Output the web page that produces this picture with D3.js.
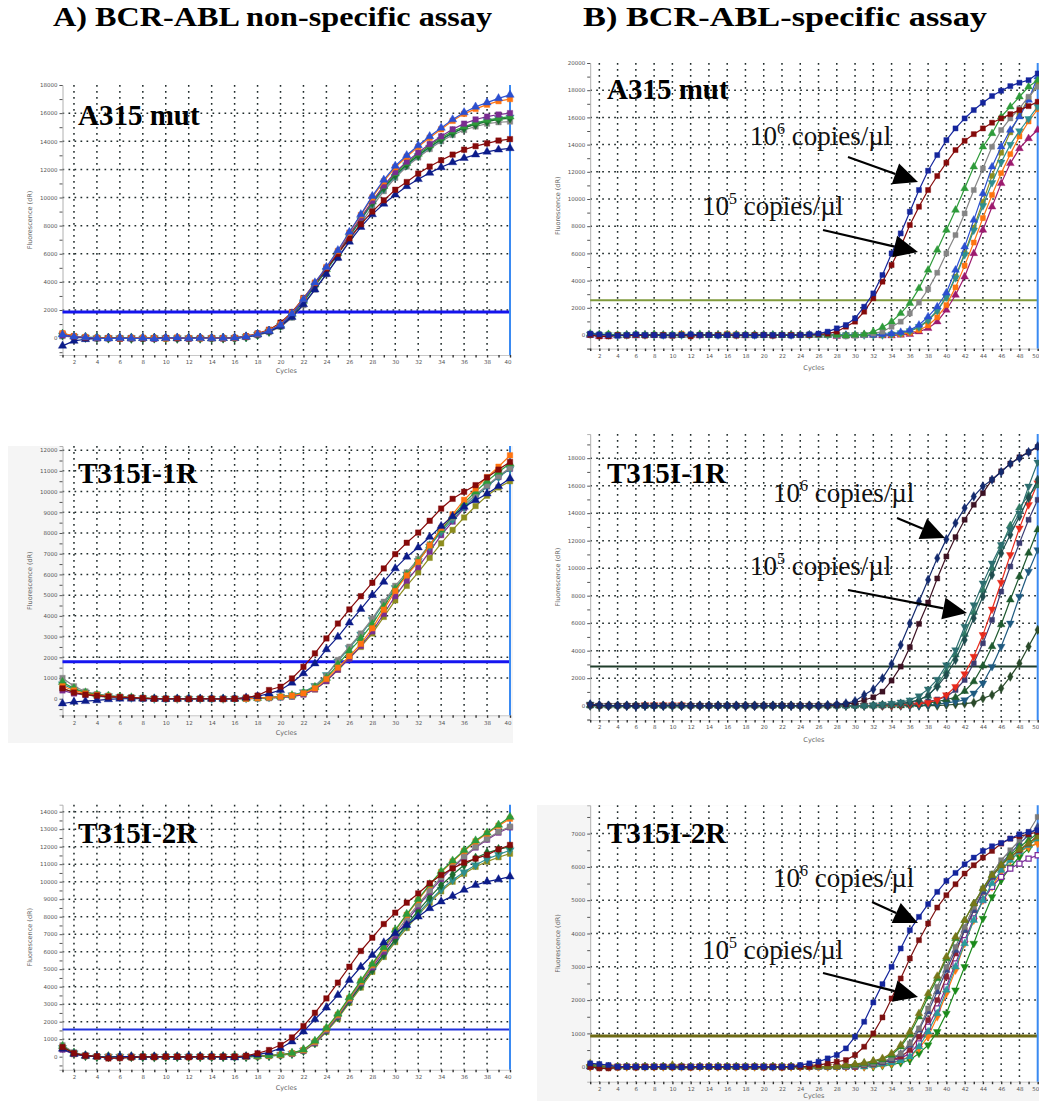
<!DOCTYPE html>
<html><head><meta charset="utf-8">
<script src="https://cdn.jsdelivr.net/npm/d3@7"></script>
<style>body{margin:0;background:#fff}svg{display:block}</style>
</head><body>
<svg id="c" width="1039" height="1101"></svg>
<script>
// ---------------- DATA ----------------
const columnTitles = ["A) BCR-ABL non-specific assay", "B) BCR-ABL-specific assay"];
const panelLabels = ["A315 mut", "T315I-1R", "T315I-2R", "A315 mut", "T315I-1R", "T315I-2R"];
const annotationExp = ["6", "5"];
const annotationUnit = " copies/µl";
const xAxisTitle = "Cycles";
const yAxisTitle = "Fluorescence (dR)";
const cyclesA = 40, cyclesB = 50;

const yTicksA1 = [0,2000,4000,6000,8000,10000,12000,14000,16000,18000];
const yTicksA2 = [0,1000,2000,3000,4000,5000,6000,7000,8000,9000,10000,11000,12000];
const yTicksA3 = [0,1000,2000,3000,4000,5000,6000,7000,8000,9000,10000,11000,12000,13000,14000];
const yTicksB1 = [0,2000,4000,6000,8000,10000,12000,14000,16000,18000,20000];
const yTicksB2 = [0,2000,4000,6000,8000,10000,12000,14000,16000,18000];
const yTicksB3 = [0,1000,2000,3000,4000,5000,6000,7000];
const thresholds = [1850, 1780, 1560, 2550, 2850, 920];

// Panel A1 : A315 mut, non-specific (cycles 1..40)
const A1_blue   = [250,100,50,0,-30,0,-20,0,-40,0,30,-20,0,-10,0,20,
  100,280,520,950,1750,2750,3950,5050,6250,7550,8800,10100,11250,12250,13000,13700,14350,14950,15550,16050,16450,16750,17050,17300];
const A1_orange = [350,150,80,20,0,-20,0,30,0,-30,50,0,-20,0,0,10,
  120,300,560,1000,1800,2800,3950,5050,6200,7500,8750,10000,11150,12150,12900,13600,14250,14850,15450,15950,16300,16600,16850,17000];
const A1_purple = [200,80,30,0,0,-40,0,0,-50,0,0,-30,0,0,-20,0,
  90,260,500,920,1700,2700,3850,4950,6100,7350,8550,9750,10850,11800,12550,13200,13800,14350,14850,15250,15550,15750,15900,16000];
const A1_green  = [300,120,40,50,20,0,30,0,0,-20,0,0,0,-30,0,10,
  100,270,510,930,1700,2650,3800,4900,6050,7300,8500,9700,10800,11700,12450,13100,13700,14250,14700,15050,15300,15500,15650,15750];
const A1_dkgreen= [250,100,60,30,0,0,-20,0,0,0,-20,0,0,0,0,0,
  90,250,480,900,1650,2600,3750,4850,6000,7250,8450,9650,10700,11600,12350,13000,13600,14150,14600,14950,15200,15400,15550,15650];
const A1_gray   = [150,50,0,0,-20,0,0,-30,0,0,0,-20,0,0,-20,0,
  60,200,420,800,1450,2350,3450,4550,5700,6950,8150,9350,10450,11400,12200,12850,13450,14000,14450,14800,15050,15250,15350,15400];
const A1_teal   = [200,100,50,0,0,0,0,-20,0,0,0,0,-20,0,0,0,
  80,240,470,880,1600,2550,3700,4800,5950,7200,8400,9550,10600,11500,12300,12950,13550,14100,14550,14950,15250,15450,15600,15700];
const A1_maroon = [300,120,40,0,0,-30,0,-20,0,0,0,-20,0,0,0,30,
  130,330,600,1100,1850,2850,3900,4950,6000,7100,8100,9000,9800,10550,11100,11700,12200,12650,13050,13400,13650,13850,14050,14150];
const A1_navy   = [-550,-200,-80,-30,0,0,-30,0,0,0,-20,0,0,-20,0,0,
  90,260,480,850,1500,2400,3450,4550,5700,6850,7900,8800,9550,10200,10800,11300,11750,12150,12500,12800,13050,13250,13400,13500];

// Panel A2 : T315I-1R, non-specific
const A2_maroon = [500,300,200,150,100,80,50,30,0,0,0,-20,0,0,-20,0,60,150,
  420,580,980,1540,2190,2910,3630,4310,4950,5600,6290,6980,7530,8020,8590,9180,9650,9990,10310,10680,11060,11430];
const A2_navy   = [-230,-150,-120,-80,-30,0,0,0,0,-20,0,0,0,0,0,0,50,120,
  250,420,770,1220,1700,2380,2990,3670,4330,5000,5640,6290,6850,7300,7810,8330,8810,9260,9580,9900,10260,10630];
const A2_orange = [600,400,250,180,120,80,50,30,0,0,-20,0,0,0,-20,0,0,30,60,100,
  150,260,500,950,1500,2050,2650,3400,4300,5200,5950,6600,7400,8250,8900,9600,10150,10700,11200,11750];
const A2_green  = [800,500,300,200,140,90,60,30,10,0,0,20,0,0,0,0,10,30,60,100,
  160,300,560,1000,1650,2300,2900,3600,4450,5300,6000,6650,7400,8150,8800,9450,10000,10500,10950,11350];
const A2_gray   = [1000,600,350,220,150,100,70,40,20,0,0,0,0,0,0,0,0,20,50,90,
  150,300,600,1100,1870,2510,3150,3870,4680,5450,6100,6750,7450,8150,8750,9350,9850,10300,10750,11150];
const A2_teal   = [700,450,300,200,130,80,50,30,0,0,0,0,0,0,0,0,20,40,70,110,
  170,320,620,1150,1800,2450,3100,3800,4600,5350,6000,6650,7350,8050,8650,9250,9750,10250,10700,11100];
const A2_purple = [400,250,180,120,80,50,30,0,0,-20,0,0,0,-20,0,0,0,20,30,60,
  100,200,450,850,1400,1950,2550,3250,4100,4950,5700,6350,7100,7900,8550,9200,9750,10250,10700,11100];
const A2_olive  = [500,300,200,130,90,60,40,20,0,0,0,0,0,0,0,0,0,20,40,70,
  110,220,450,850,1400,1950,2500,3150,3950,4750,5450,6100,6800,7500,8150,8750,9300,9800,10200,10500];

// Panel A3 : T315I-2R, non-specific
const A3_maroon = [550,200,60,20,-100,-80,-50,0,-30,0,0,-30,0,0,0,0,50,
  190,380,670,1100,1750,2510,3330,4230,5140,6040,6800,7580,8230,8800,9330,9910,10380,10760,11090,11320,11530,11850,12100];
const A3_navy   = [450,150,50,0,-20,0,0,-30,0,0,-20,0,0,0,-20,-50,0,
  120,250,480,860,1430,2130,2800,3520,4380,5140,5810,6520,7050,7520,8000,8480,8860,9180,9530,9810,10000,10130,10290];
const A3_green  = [600,200,50,0,0,0,-20,0,0,0,-20,0,0,0,0,0,0,
  30,60,110,200,400,900,1650,2450,3400,4350,5300,6250,7250,8150,9000,9850,10600,11200,11800,12350,12800,13250,13700];
const A3_orange = [500,150,40,0,0,-20,0,0,0,0,0,-20,0,0,0,0,0,
  30,60,100,190,380,860,1600,2400,3350,4300,5250,6200,7200,8100,8950,9800,10550,11150,11750,12300,12750,13200,13600];
const A3_gray   = [650,250,80,20,0,0,0,0,-20,0,0,0,0,0,0,0,0,
  25,55,95,180,360,820,1550,2350,3300,4250,5200,6150,7050,7900,8700,9500,10250,10850,11450,12000,12450,12850,13150];
const A3_purple = [400,150,40,0,0,-20,0,0,0,0,0,0,0,-20,0,0,0,
  25,50,90,170,340,780,1500,2300,3250,4200,5100,6000,6900,7750,8600,9400,10150,10800,11400,11950,12400,12800,13100];
const A3_teal   = [500,200,60,0,0,0,0,-20,0,0,0,0,0,0,0,0,0,
  25,50,90,170,340,780,1480,2250,3150,4050,4950,5800,6650,7450,8200,8900,9550,10100,10550,10950,11300,11550,11800];
const A3_olive  = [450,180,50,0,0,0,-20,0,0,0,0,0,0,0,0,0,0,
  20,45,85,160,320,750,1420,2180,3080,3950,4850,5700,6550,7350,8100,8800,9450,10000,10450,10850,11150,11400,11600];
const A3_dkgreen= [550,200,60,0,0,0,0,0,-20,0,0,0,0,0,0,0,0,
  25,55,95,180,350,800,1500,2280,3180,4080,4980,5850,6700,7550,8350,9100,9800,10400,10950,11350,11650,11850,12000];

// Panel B1 : A315 mut, specific (cycles 1..50)
const B1_navy   = [100,50,0,-50,0,50,0,0,-50,0,0,50,0,0,-50,0,0,0,-50,0,0,0,-50,0,50,100,
  245,490,735,1225,2080,3060,4410,6000,7470,9065,10660,12080,13230,14330,15190,15925,16540,17080,17570,17960,18300,18550,18740,19230];
const B1_maroon = [0,-100,-100,0,-50,0,-50,0,0,-50,0,-100,0,0,0,0,-50,0,0,0,-50,0,0,0,0,50,100,
  245,610,980,1715,2700,3920,5145,6490,8085,9430,10660,11690,12670,13600,14280,14770,15190,15610,15925,16240,16540,16830,17150];
const B1_green  = [100,50,50,0,0,50,0,50,0,0,0,0,50,0,0,0,0,0,0,0,0,0,0,0,0,0,0,0,-50,0,50,
  245,565,980,1590,2330,3430,4780,6250,7720,9190,10780,12370,13840,14820,16050,16780,17520,18250,18740];
const B1_gray   = [50,0,0,0,-50,0,0,0,0,-50,0,0,0,0,0,50,0,0,0,0,0,0,0,0,0,0,0,0,-100,-50,0,100,
  245,610,980,1590,2380,3360,4580,6000,7350,8940,10660,12250,13840,15070,15925,16660,17520,18250];
const B1_blue   = [0,0,0,-50,0,0,0,0,0,0, 0,0,0,0,0,0,0,0,0,0, 0,0,0,0,0,0,0,0,0,0, 0,0,50,100,200,
  370,735,1350,2080,3110,4780,6490,8450,10410,12370,13840,15070,16050,17280,18990];
const B1_teal   = [50,0,0,0,0,0,0,0,0,0, 0,-50,0,0,0,0,0,0,0,0, 0,0,0,0,0,0,0,0,0,0, 0,0,0,50,150,
  300,600,1100,1800,2800,4200,5900,7700,9500,11200,12700,14000,15000,15900,16800];
const B1_olive  = [0,0,50,0,0,0,0,0,0,0, 0,0,0,0,0,0,0,0,0,0, 0,0,0,0,0,0,0,0,0,0, 0,0,0,50,120,
  280,560,1050,1750,2800,4300,6000,7900,9800,11700,13400,14900,16200,17400,18500];
const B1_orange = [50,0,0,0,0,0,0,0,0,0, 100,0,0,0,0,100,50,0,0,0, 0,0,0,0,0,0,0,0,0,0, 0,0,0,0,50,150,
  350,700,1300,2200,3500,5100,6800,8600,10300,11900,13300,14600,15700,16600];
const B1_purple = [0,-100,-100,-50,0,-50,0,0,-50,-50, 0,0,-50,0,0,0,0,-50,0,0, -50,0,0,0,0,0,0,-100,-50,-50, 0,0,-50,-50,0,50,
  245,490,980,1840,2940,4290,6000,7720,9430,11150,12620,13720,14450,15070];

// Panel B2 : T315I-1R, specific
const B2_navy   = [100,50,0,0,0,-50,0,0,0,50, 0,0,0,0,0,0,0,0,0,0, 0,0,0,0,0,0,50,100,
  170,340,780,1190,1990,3030,4420,5990,7570,9150,10730,12110,13280,14370,15220,15950,16430,16990,17600,18010,18440,18860];
const B2_maroon = [50,0,0,0,0,0,0,0,0,0, 0,0,0,0,0,0,0,0,0,0, 0,0,0,0,0,0,0,50,100,
  220,410,610,1020,1820,2840,4250,5950,7500,9250,10850,12260,13520,14610,15460,16430,17040,17600,18060,18440,18810];
const B2_teal1  = [100,0,0,0,0,0,0,0,0,0, 0,0,0,0,0,0,0,0,0,0, 0,0,0,0,0,0,0,0,0,0, 0,50,100,150,250,
  400,700,1200,1900,2960,4050,5750,7330,8910,10360,11700,12790,14000,15950,17700];
const B2_teal2  = [50,0,0,0,0,0,0,0,0,0, 0,0,0,0,0,0,0,0,0,0, 0,0,0,0,0,0,0,0,0,0, 0,0,50,80,150,250,
  400,780,1380,2230,3320,4780,6360,7940,9510,11090,12430,13760,15100,16430];
const B2_tealgrn= [0,0,0,0,0,0,0,0,0,0, 0,0,0,0,0,0,0,0,0,0, 0,0,0,0,0,0,0,0,0,0, 0,0,50,100,150,250,
  450,700,1500,2500,3700,5200,6800,8400,10000,11600,13100,14400,15300,16000];
const B2_red    = [50,0,0,0,0,0,50,50,50,50, 50,0,0,0,0,0,0,0,0,0, 0,0,0,0,0,0,0,0,0,0, 0,0,0,0,50,100,150,
  220,410,780,1380,2310,3570,5150,7010,8960,10970,12910,14610,16190];
const B2_slate  = [0,0,0,0,0,0,0,0,0,0, 0,0,0,0,0,0,0,0,0,0, 0,0,0,0,0,0,0,0,0,0, 0,0,0,50,100,150,200,300,450,
  650,1140,1870,3080,4540,6240,8300,10120,11820,13520,14970];
const B2_dkgreen= [50,0,0,0,0,0,0,0,0,0, 0,0,0,0,0,0,0,0,0,0, 0,0,0,0,0,0,0,0,0,0, 0,0,0,0,0,50,100,200,300,450,
  600,1050,1750,2900,4300,5900,7700,9400,11100,12800];
const B2_bluetl = [0,0,0,0,0,0,0,0,0,0, 0,0,0,0,0,0,0,0,0,0, 0,0,0,0,0,0,0,0,0,0, 0,0,0,0,0,0,0,50,100,200,300,
  410,900,1630,2840,4300,5990,7940,9760,11330];
const B2_latest = [0,0,0,0,0,0,0,0,0,0, 0,0,0,0,0,0,0,0,0,0, 0,0,0,0,0,0,0,0,0,0, 0,0,0,0,0,0,0,0,0,50,100,150,
  220,530,780,1260,2110,3080,4300,5510];

// Panel B3 : T315I-2R, specific
const B3_navy   = [100,80,50,0,0,0,-20,0,0,0, -20,0,0,0,0,0,0,0,0,0, -20,0,0,50,100,150,250,
  350,550,900,1350,1930,2480,3000,3550,4100,4500,4880,5250,5580,5820,6080,6280,6480,6620,6720,6850,6980,7050,7100];
const B3_maroon = [0,-50,-50,-30,0,-30,0,-20,0,-20, 0,-30,0,0,-20,0,0,-20,0,-30, 0,-30,0,0,0,50,100,150,
  200,350,600,1000,1480,2050,2650,3250,3800,4300,4780,5150,5480,5800,6050,6280,6480,6700,6850,6920,6980,7050];
const B3_olive  = [100,50,0,0,0,0,0,0,0,50, 0,0,0,0,0,0,0,0,0,0, 0,0,0,0,0,0,0,0,50,80,120,180,
  250,400,650,1050,1600,2200,2720,3300,3900,4400,4900,5350,5750,6050,6300,6520,6700,6900];
const B3_green  = [50,0,0,0,0,0,0,0,0,0, 0,0,0,0,0,0,0,0,0,0, 0,0,0,0,0,0,0,0,30,60,100,150,
  220,350,600,980,1500,2100,2650,3250,3850,4400,4900,5350,5750,6050,6350,6600,6800,7000];
const B3_gray   = [50,0,0,0,0,0,0,0,0,0, 0,0,0,0,0,0,0,0,0,0, 0,0,0,0,0,0,0,0,0,30,60,100,160,
  250,400,700,1150,1750,2400,3000,3600,4200,4800,5350,5800,6200,6500,6800,7050,7500];
const B3_bluegry= [0,0,0,0,0,0,0,0,0,0, 0,0,0,0,0,0,0,0,0,0, 0,0,0,0,0,0,0,0,0,40,70,100,130,
  220,380,650,1100,1650,2250,2900,3500,4100,4700,5250,5700,6100,6400,6700,6950,7200];
const B3_darkred= [0,0,0,0,0,0,0,0,0,0, 0,0,0,0,0,0,0,0,0,0, 0,0,0,0,0,0,0,0,0,0, 40,80,130,200,
  300,500,900,1400,2000,2700,3400,4100,4700,5250,5700,6050,6300,6500,6700,6950];
const B3_teal   = [0,0,0,0,0,0,0,0,0,0, 0,0,0,0,0,0,0,0,0,0, 0,0,0,0,0,0,0,0,0,0, 0,40,80,120,180,
  300,600,1050,1600,2300,3000,3700,4400,5000,5500,5900,6200,6450,6650,6850];
const B3_purple = [0,0,0,0,0,0,0,0,0,0, 0,0,0,0,0,0,0,0,0,0, 0,0,0,0,0,0,0,0,0,0, 40,80,130,180,250,
  400,700,1200,1750,2400,3100,3800,4450,5000,5400,5700,5950,6100,6250,6350];
const B3_orange = [0,0,0,0,0,0,0,0,0,0, 0,0,0,0,0,0,0,0,0,0, 0,0,0,0,0,0,0,0,0,0, 0,30,60,100,200,
  300,550,900,1500,2200,2900,3700,4400,5000,5400,5850,6200,6450,6600,6700];
const B3_grnlate= [0,0,0,0,0,0,0,0,0,0, 0,0,0,0,0,0,0,0,0,0, 0,0,0,0,0,0,0,0,0,0, 0,0,30,60,120,200,
  400,650,1050,1600,2300,3000,3700,4450,5100,5600,6000,6300,6550,6750];

// ---------------- STYLES ----------------
const sty = {
  blue:{c:"#2b4fd0",s:"tri"}, orange:{c:"#ff7410",s:"sq"}, purple:{c:"#7a2d91",s:"sq"},
  green:{c:"#2e9b3a",s:"tri"}, dkgreen:{c:"#1b6b2c",s:"dia"}, gray:{c:"#858585",s:"sq"},
  teal:{c:"#2e8f8f",s:"trid"}, maroon:{c:"#850a0a",s:"sq"}, navy:{c:"#0c1c8a",s:"tri"},
  olive:{c:"#8d8d1e",s:"sq"}, magenta:{c:"#9c1a6e",s:"tri"},
  navy2:{c:"#132a6e",s:"dia"}, maroon2:{c:"#3d1224",s:"sq"}, teal1:{c:"#2c6e70",s:"trid"},
  teal2:{c:"#1f4c4e",s:"dia"}, tealgrn:{c:"#2f7a64",s:"tri"}, red:{c:"#e82a1c",s:"trid"},
  slate:{c:"#3c3c72",s:"sq"}, dkgreen2:{c:"#1f5a2f",s:"tri"}, bluetl:{c:"#1f5a80",s:"trid"},
  latest:{c:"#2a4a2a",s:"dia"},
  navy3:{c:"#14259c",s:"sq"}, maroon3:{c:"#7c1010",s:"sq"}, olive3:{c:"#77771a",s:"tri"},
  green3:{c:"#2a8a2a",s:"tri"}, gray3:{c:"#7a7a7a",s:"sq"}, bluegry:{c:"#3a4a8a",s:"tri"},
  darkred:{c:"#8b2030",s:"sq"}, teal3:{c:"#2a9a9a",s:"tri"}, purple3:{c:"#7a2a9a",s:"osq"},
  orange3:{c:"#ff7a12",s:"trid"}, grnlate:{c:"#1a8a1a",s:"trid"}
};

// ---------------- LAYOUT + DRAW ----------------
const svg = d3.select("#c");
const panels = [
  {cycles:cyclesA, left:62.5, right:510, top:85, bottom:355, yDomain:[-1200,18000], yTicks:yTicksA1, minor:1000,
   thr:thresholds[0], thrColor:"#1414ee", thrW:3, label:panelLabels[0], lx:78, ly:125, yTitleX:32, xTitleY:373, ms:30,
   series:[["gray",A1_gray],["teal",A1_teal],["dkgreen",A1_dkgreen],["green",A1_green],["purple",A1_purple],["navy",A1_navy],["maroon",A1_maroon],["orange",A1_orange],["blue",A1_blue]]},
  {cycles:cyclesA, left:62.5, right:510, top:446, bottom:715.3, yDomain:[-800,12200], yTicks:yTicksA2, minor:500,
   thr:thresholds[1], thrColor:"#1515f0", thrW:3, label:panelLabels[1], lx:78, ly:483, yTitleX:32, xTitleY:735, ms:30,
   bg:[8,446,505,297],
   series:[["olive",A2_olive],["purple",A2_purple],["teal",A2_teal],["gray",A2_gray],["green",A2_green],["orange",A2_orange],["navy",A2_navy],["maroon",A2_maroon]]},
  {cycles:cyclesA, left:62.5, right:510, top:804.7, bottom:1069.8, yDomain:[-750,14400], yTicks:yTicksA3, minor:500,
   thr:thresholds[2], thrColor:"#2233dd", thrW:2, label:panelLabels[2], lx:78, ly:843, yTitleX:32, xTitleY:1090, ms:30,
   series:[["olive",A3_olive],["teal",A3_teal],["dkgreen",A3_dkgreen],["purple",A3_purple],["gray",A3_gray],["orange",A3_orange],["green",A3_green],["navy",A3_navy],["maroon",A3_maroon]]},
  {cycles:cyclesB, left:590.2, right:1037.7, top:63, bottom:348.6, yDomain:[-1000,20000], yTicks:yTicksB1, minor:1000,
   thr:thresholds[3], thrColor:"#7f9a3c", thrW:2, label:panelLabels[3], lx:607, ly:99, yTitleX:560, xTitleY:370, ms:26,
   series:[["magenta",B1_purple],["orange",B1_orange],["olive",B1_olive],["teal",B1_teal],["blue",B1_blue],["gray",B1_gray],["green",B1_green],["maroon",B1_maroon],["navy3",B1_navy]],
   ann:[{x:750,y:145,e:annotationExp[0],ax:848,ay:157,bx:918,by:182},{x:702,y:215,e:annotationExp[1],ax:823,ay:230,bx:918,by:252}]},
  {cycles:cyclesB, left:590.2, right:1037.7, top:434.1, bottom:720.1, yDomain:[-1050,19750], yTicks:yTicksB2, minor:1000,
   thr:thresholds[4], thrColor:"#1f3d2a", thrW:2, label:panelLabels[4], lx:607, ly:483, yTitleX:560, xTitleY:742, ms:26,
   series:[["latest",B2_latest],["bluetl",B2_bluetl],["dkgreen2",B2_dkgreen],["slate",B2_slate],["red",B2_red],["tealgrn",B2_tealgrn],["teal2",B2_teal2],["teal1",B2_teal1],["maroon2",B2_maroon],["navy2",B2_navy]],
   ann:[{x:773,y:502,e:annotationExp[0],ax:897,ay:518,bx:945,by:538},{x:750,y:575,e:annotationExp[1],ax:848,ay:590,bx:967,by:613}]},
  {cycles:cyclesB, left:590.2, right:1037.7, top:805.3, bottom:1081.7, yDomain:[-450,7850], yTicks:yTicksB3, minor:500,
   thr:thresholds[5], thrColor:"#6e6a14", thrW:3, label:panelLabels[5], lx:607, ly:843, yTitleX:560, xTitleY:1098, ms:26,
   bg:[537,805,502,296],
   series:[["grnlate",B3_grnlate],["orange3",B3_orange],["purple3",B3_purple],["teal3",B3_teal],["darkred",B3_darkred],["bluegry",B3_bluegry],["gray3",B3_gray],["green3",B3_green],["olive3",B3_olive],["maroon3",B3_maroon],["navy3",B3_navy]],
   ann:[{x:773,y:887,e:annotationExp[0],ax:872,ay:902,bx:918,by:923},{x:702,y:959,e:annotationExp[1],ax:823,ay:973,bx:918,by:997}]}
];

function symPath(shape, size){
  const t = {sq:d3.symbolSquare, osq:d3.symbolSquare, tri:d3.symbolTriangle, trid:d3.symbolTriangle, dia:d3.symbolDiamond}[shape] || d3.symbolSquare;
  return d3.symbol().type(t).size(size)();
}

function drawPanel(p){
  const g = svg.append("g");
  const x = d3.scaleLinear().domain([1, p.cycles]).range([p.left, p.right]);
  const y = d3.scaleLinear().domain(p.yDomain).range([p.bottom, p.top]);
  if (p.bg){
    g.append("rect").attr("x",p.bg[0]).attr("y",p.bg[1]).attr("width",p.bg[2]).attr("height",p.bg[3]).attr("fill","#f5f5f5");
    g.append("rect").attr("x",p.left).attr("y",p.top).attr("width",p.right-p.left).attr("height",p.bottom-p.top).attr("fill","#fff");
  }
  // grid
  const gx = d3.range(2, p.cycles, 2);
  g.append("g").selectAll("line").data(gx).join("line")
    .attr("x1",d=>x(d)).attr("x2",d=>x(d)).attr("y1",p.top).attr("y2",p.bottom)
    .attr("stroke","#1f2a2a").attr("stroke-width",1.5).attr("stroke-dasharray","1.7,4.3");
  const gy = p.yTicks.filter(v => v > 0 && y(v) > p.top + 2);
  g.append("g").selectAll("line").data(gy).join("line")
    .attr("x1",p.left).attr("x2",p.right).attr("y1",d=>y(d)).attr("y2",d=>y(d))
    .attr("stroke","#1f2a2a").attr("stroke-width",1.5).attr("stroke-dasharray","1.7,4.3");
  // axes
  const minorTicks = d3.range(Math.ceil(p.yDomain[0]/p.minor)*p.minor, p.yDomain[1]+1, p.minor);
  const ya = g.append("g").attr("transform",`translate(${p.left},0)`)
    .call(d3.axisLeft(y).tickValues(minorTicks).tickSize(3).tickPadding(2)
      .tickFormat(d => p.yTicks.includes(d) ? d : ""));
  ya.select(".domain").attr("stroke","#b0b0b0");
  ya.selectAll(".tick line").attr("stroke","#555");
  ya.selectAll("text").attr("font-family","DejaVu Sans, sans-serif").attr("font-size",5.5).attr("fill","#555");
  const xa = g.append("g").attr("transform",`translate(0,${p.bottom})`)
    .call(d3.axisBottom(x).tickValues(d3.range(1, p.cycles+1)).tickSize(2.5).tickPadding(3)
      .tickFormat(d => d % 2 === 0 ? d : ""));
  xa.select(".domain").attr("stroke","#c8c8c8");
  xa.selectAll(".tick line").attr("stroke","#333").attr("stroke-width",1.4);
  xa.selectAll("text").attr("font-family","DejaVu Sans, sans-serif").attr("font-size",5.5).attr("fill","#555");
  xa.selectAll(".tick").filter(d => d === p.cycles).select("text").attr("text-anchor","end").attr("dx",1);
  // axis titles
  g.append("text").attr("transform",`translate(${p.yTitleX},${(p.top+p.bottom)/2}) rotate(-90)`)
    .attr("text-anchor","middle").attr("font-family","DejaVu Sans, sans-serif").attr("font-size",6.5).attr("fill","#666").text(yAxisTitle);
  g.append("text").attr("x",(p.left+p.right)/2).attr("y",p.xTitleY).attr("text-anchor","middle")
    .attr("font-family","DejaVu Sans, sans-serif").attr("font-size",6.5).attr("fill","#666").text(xAxisTitle);
  // threshold
  g.append("line").attr("x1",p.left).attr("x2",p.right).attr("y1",y(p.thr)).attr("y2",y(p.thr))
    .attr("stroke",p.thrColor).attr("stroke-width",p.thrW);
  // right edge marker
  g.append("line").attr("x1",p.right).attr("x2",p.right).attr("y1",p.top).attr("y2",p.bottom)
    .attr("stroke","#3a8af2").attr("stroke-width",2);
  // series
  const line = d3.line().x((d,i)=>x(i+1)).y(d=>y(d));
  p.series.forEach(([key, vals]) => {
    const st = sty[key];
    const sg = g.append("g");
    sg.append("path").attr("d",line(vals)).attr("fill","none").attr("stroke",st.c).attr("stroke-width",1.2);
    sg.selectAll("path.m").data(vals).join("path").attr("class","m")
      .attr("d",symPath(st.s, p.ms))
      .attr("transform",(d,i)=>`translate(${x(i+1)},${y(d)})${st.s==="trid"?" rotate(180)":""}`)
      .attr("fill", st.s==="osq" ? "#fff" : st.c)
      .attr("stroke", st.c).attr("stroke-width", st.s==="osq" ? 1.2 : 0.4);
  });
  // label
  g.append("text").attr("x",p.lx).attr("y",p.ly).attr("font-family","Liberation Serif, serif")
    .attr("font-weight","bold").attr("font-size",29).attr("fill","#000").text(p.label);
  // annotations
  (p.ann||[]).forEach(a => {
    const t = g.append("text").attr("x",a.x).attr("y",a.y).attr("font-family","Liberation Serif, serif")
      .attr("font-size",27).attr("fill","#111");
    t.append("tspan").text("10");
    t.append("tspan").attr("dy",-11).attr("font-size",16).text(a.e);
    t.append("tspan").attr("dy",11).text(annotationUnit);
    const ang = Math.atan2(a.by-a.ay, a.bx-a.ax), L = 24, W = 11;
    const bx = a.bx - L*Math.cos(ang), by = a.by - L*Math.sin(ang);
    g.append("line").attr("x1",a.ax).attr("y1",a.ay).attr("x2",bx).attr("y2",by).attr("stroke","#000").attr("stroke-width",2.2);
    const px = -Math.sin(ang)*W, py = Math.cos(ang)*W;
    g.append("path").attr("d",`M${a.bx},${a.by}L${bx+px},${by+py}L${bx-px},${by-py}Z`).attr("fill","#000");
  });
}
panels.forEach(drawPanel);

// column titles
svg.append("text").attr("x",53).attr("y",26).attr("font-family","Liberation Serif, serif").attr("font-weight","bold")
  .attr("font-size",27).attr("textLength",439).attr("lengthAdjust","spacingAndGlyphs").text(columnTitles[0]);
svg.append("text").attr("x",583).attr("y",26).attr("font-family","Liberation Serif, serif").attr("font-weight","bold")
  .attr("font-size",27).attr("textLength",404).attr("lengthAdjust","spacingAndGlyphs").text(columnTitles[1]);
</script>
</body></html>
